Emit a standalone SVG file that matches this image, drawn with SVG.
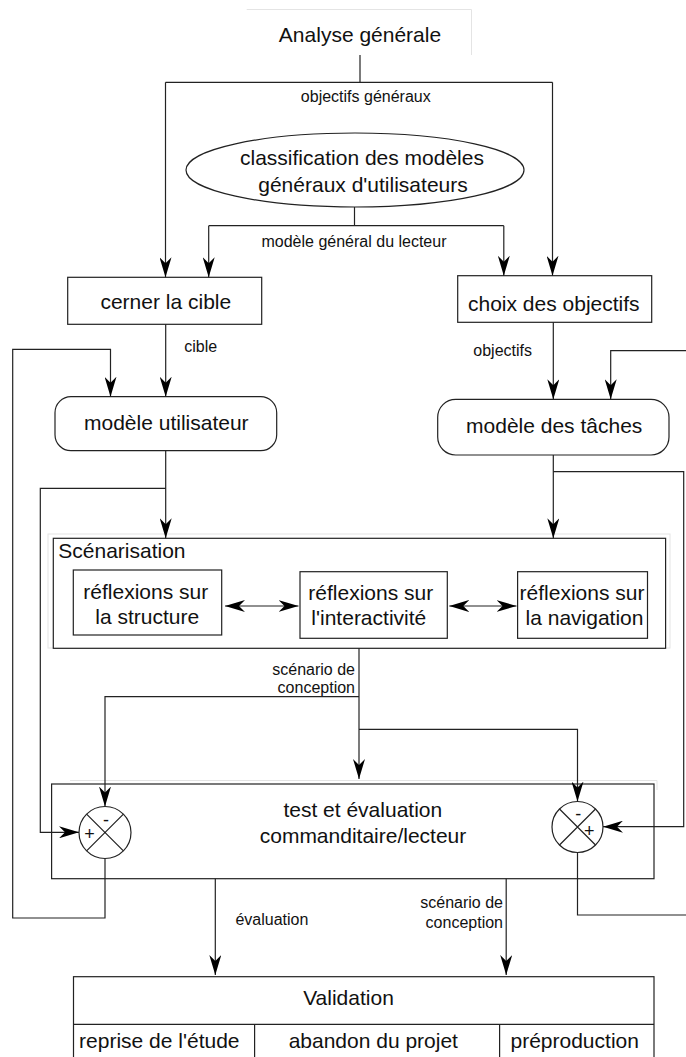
<svg xmlns="http://www.w3.org/2000/svg" width="686" height="1057" viewBox="0 0 686 1057">
<style>
  .box { fill: #ffffff; stroke: #222; stroke-width: 1.2; }
  .faint { fill: none; stroke: #e4e4e4; stroke-width: 1; }
  .ln { fill: none; stroke: #222; stroke-width: 1.2; }
  .arr { fill: none; stroke: #222; stroke-width: 1.2; marker-end: url(#ah); }
  .dbl { fill: none; stroke: #222; stroke-width: 1.2; marker-start: url(#ah); marker-end: url(#ah); }
  .big { font-family: "Liberation Sans", Arial, sans-serif; font-size: 21px; fill: #111; text-anchor: middle; }
  .start { text-anchor: start; }
  .sm { font-family: "Liberation Sans", Arial, sans-serif; font-size: 16px; fill: #111; }
  .mid { text-anchor: middle; }
  .end { text-anchor: end; }
  .sign { font-family: "Liberation Sans", Arial, sans-serif; font-size: 18px; fill: #111; text-anchor: middle; }
</style>
<defs>
  <marker id="ah" viewBox="0 0 20 12" refX="20" refY="6" markerWidth="20" markerHeight="12" markerUnits="userSpaceOnUse" orient="auto-start-reverse">
    <path d="M0,0 L20,6 L0,12 L6,6 Z" fill="#000"/>
  </marker>
</defs>
<rect width="686" height="1057" fill="#ffffff"/>

<g id="analyse">
  <path class="faint" d="M246.7,9.5 H471.5 V55"/>
  <text class="big" x="360" y="42">Analyse générale</text>
</g>

<g id="classification">
  <ellipse class="box" cx="355" cy="170" rx="169" ry="37"/>
  <text class="big" x="362" y="165">classification des modèles</text>
  <text class="big" x="363" y="192">généraux d'utilisateurs</text>
</g>

<g id="cerner">
  <rect class="box" x="67.7" y="277.3" width="194" height="47"/>
  <text class="big" x="165.8" y="309.3">cerner la cible</text>
</g>

<g id="choix">
  <rect class="box" x="457.7" y="275.7" width="194" height="46.6"/>
  <text class="big" x="553.8" y="310.7">choix des objectifs</text>
</g>

<g id="modele-utilisateur">
  <rect class="box" x="55" y="396.7" width="221.7" height="54" rx="16" ry="16"/>
  <text class="big" x="166.3" y="430">modèle utilisateur</text>
</g>

<g id="modele-taches">
  <rect class="box" x="437.7" y="399.3" width="231.3" height="55.7" rx="18" ry="18"/>
  <text class="big" x="554.2" y="432.7">modèle des tâches</text>
</g>

<g id="scenarisation">
  <rect class="faint" x="48" y="534" width="622" height="114"/>
  <rect class="box" x="53.3" y="538.3" width="612.3" height="110"/>
  <text class="big start" x="58.3" y="558.3">Scénarisation</text>
</g>

<g id="reflexion-structure">
  <rect class="box" x="73.3" y="570" width="148.4" height="65"/>
  <text class="big" x="145.8" y="598.5">réflexions sur</text>
  <text class="big" x="147.2" y="623.5">la structure</text>
</g>

<g id="reflexion-interactivite">
  <rect class="box" x="300" y="571.7" width="147.3" height="66.6"/>
  <text class="big" x="370.8" y="600">réflexions sur</text>
  <text class="big" x="368.8" y="625">l'interactivité</text>
</g>

<g id="reflexion-navigation">
  <rect class="box" x="517.6" y="571.7" width="129.9" height="66.6"/>
  <text class="big" x="582" y="600">réflexions sur</text>
  <text class="big" x="584.5" y="625">la navigation</text>
</g>

<g id="test">
  <path class="faint" d="M70,780.5 H657 V790"/>
  <rect class="box" x="51.6" y="784" width="602.4" height="94.7"/>
  <text class="big" x="362.8" y="817.3">test et évaluation</text>
  <text class="big" x="363" y="843.3">commanditaire/lecteur</text>
</g>

<g id="validation">
  <rect class="box" x="73.5" y="976.7" width="580.5" height="90"/>
  <path class="ln" d="M73.5,1024.3 H654 M254.6,1024.3 V1060 M499.6,1024.3 V1060"/>
  <text class="big" x="348.5" y="1005">Validation</text>
  <text class="big" x="159.3" y="1048.3">reprise de l'étude</text>
  <text class="big" x="373.3" y="1048.3">abandon du projet</text>
  <text class="big" x="574.7" y="1048.3">préproduction</text>
</g>

<g id="connectors">
  <path class="ln" d="M360,55 V82.3"/>
  <path class="ln" d="M165.5,82.3 H552.5"/>
  <path class="arr" d="M165.5,82.3 V277.3"/>
  <path class="arr" d="M552.5,82.3 V275.7"/>
  <path class="ln" d="M354.5,207 V225.7"/>
  <path class="ln" d="M208.7,225.7 H503.8"/>
  <path class="arr" d="M208.7,225.7 V277.3"/>
  <path class="arr" d="M503.8,225.7 V275.7"/>
  <path class="arr" d="M165.7,324.3 V396.7"/>
  <path class="arr" d="M105,858.5 V918 H12.7 V349.3 H110.5 V396.7"/>
  <path class="arr" d="M553.3,322.3 V399.3"/>
  <path class="arr" d="M687,350.7 H610.7 V399.3"/>
  <path class="ln" d="M577.5,852.5 V915 H687"/>
  <path class="arr" d="M165.7,450.7 V538.3"/>
  <path class="arr" d="M165.7,488.3 H40.3 V832.3 H79"/>
  <path class="arr" d="M553.3,455 V538.3"/>
  <path class="arr" d="M553.3,471.7 H683.7 V826.7 H603"/>
  <path class="dbl" d="M225,606 H298.5"/>
  <path class="dbl" d="M449.3,606 H516.5"/>
  <path class="arr" d="M359,648.3 V779"/>
  <path class="arr" d="M359,696.7 H105 V806.5"/>
  <path class="arr" d="M359,729.3 H577.5 V801.5"/>
  <path class="arr" d="M215.3,878.7 V975"/>
  <path class="arr" d="M506.2,878.7 V975"/>
</g>

<g id="comparateur-gauche">
  <circle class="box" cx="105" cy="832.5" r="26"/>
  <path class="ln" d="M86.6,814.1 L123.4,850.9 M123.4,814.1 L86.6,850.9"/>
  <text class="sign" x="106" y="826">-</text>
  <text class="sign" x="89.5" y="840">+</text>
</g>

<g id="comparateur-droit">
  <circle class="box" cx="577.5" cy="827" r="25.5"/>
  <path class="ln" d="M559.5,809 L595.5,845 M595.5,809 L559.5,845"/>
  <text class="sign" x="578.3" y="820">-</text>
  <text class="sign" x="589.3" y="836.5">+</text>
</g>

<g id="labels">
  <text class="sm mid" x="365.8" y="101.5">objectifs généraux</text>
  <text class="sm mid" x="354" y="246.7">modèle général du lecteur</text>
  <text class="sm" x="184.3" y="351.7">cible</text>
  <text class="sm" x="473.3" y="356">objectifs</text>
  <text class="sm end" x="355" y="675">scénario de</text>
  <text class="sm end" x="355" y="693.3">conception</text>
  <text class="sm" x="235.4" y="925">évaluation</text>
  <text class="sm end" x="503" y="907.7">scénario de</text>
  <text class="sm end" x="503" y="927.7">conception</text>
</g>
</svg>
